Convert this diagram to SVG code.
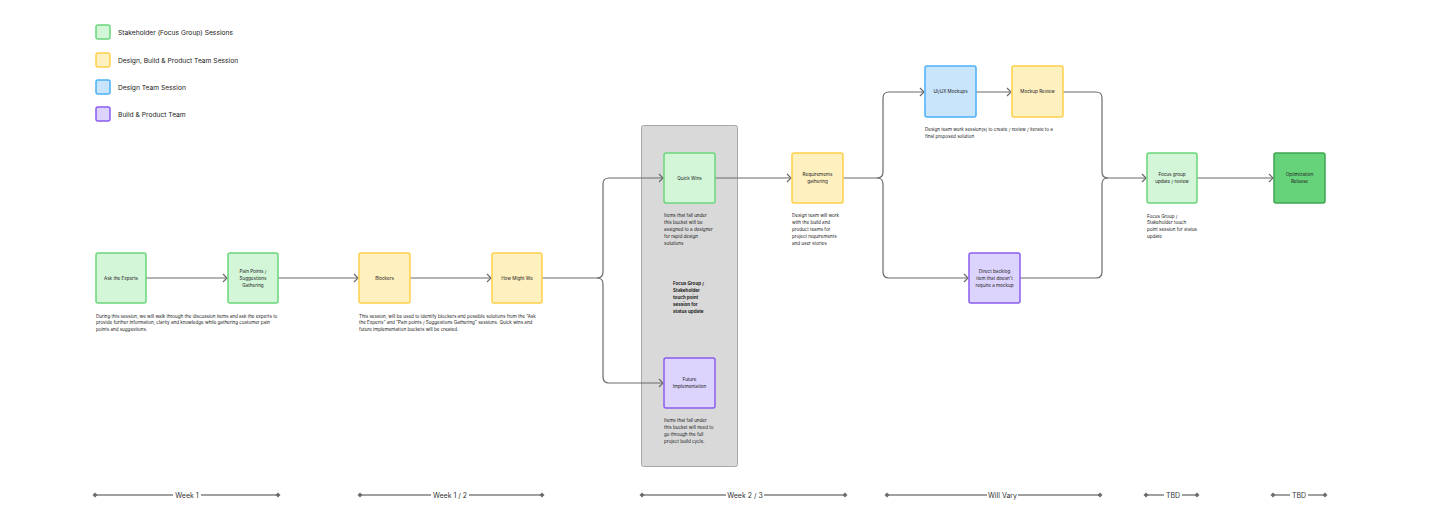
<svg xmlns="http://www.w3.org/2000/svg" width="1440" height="520" viewBox="0 0 1440 520">
<style>
text{font-family:Inter,"Liberation Sans",sans-serif;fill:#222}
.lg{font-size:6.7px}
.sm{font-size:4.55px}
.lb{font-size:4.6px;text-anchor:middle}
.b{font-weight:bold}
.tl{font-size:7px;text-anchor:middle;fill:#333}
.n{stroke-width:1.5}
.g{fill:#d3f5d8;stroke:#6ad67a}
.y{fill:#fff0c0;stroke:#ffcf4a}
.bl{fill:#c8e5fc;stroke:#4ab0f8}
.p{fill:#ddd4fd;stroke:#8a5cf0}
.dg{fill:#66d37a;stroke:#3fa551}
.c{fill:none;stroke:#6b6b6b;stroke-width:1.2}
.t{stroke:#808080;stroke-width:1.5}
.d{fill:#6b6b6b}
</style>
<defs>
<marker id="ah" markerUnits="userSpaceOnUse" markerWidth="10" markerHeight="12" refX="5" refY="5" orient="auto">
<path d="M1,1 L5,5 L1,9" fill="none" stroke="#6b6b6b" stroke-width="1.2"/>
</marker>
<path id="dm" d="M0,-2.5 L2.5,0 L0,2.5 L-2.5,0Z"/>
</defs>
<rect width="1440" height="520" fill="#fff"/>

<g id="legend">
<rect x="96" y="25" width="14" height="14" rx="2" class="n g"/>
<text x="118" y="35" class="lg">Stakeholder (Focus Group) Sessions</text>
<rect x="96" y="53" width="14" height="14" rx="2" class="n y"/>
<text x="118" y="62.5" class="lg">Design, Build &amp; Product Team Session</text>
<rect x="96" y="80" width="14" height="14" rx="2" class="n bl"/>
<text x="118" y="90" class="lg">Design Team Session</text>
<rect x="96" y="107" width="14" height="14" rx="2" class="n p"/>
<text x="118" y="117" class="lg">Build &amp; Product Team</text>
</g>

<g id="column">
<rect x="641.5" y="125.5" width="96" height="341" rx="2" fill="#d9d9d9" stroke="#a8a8a8" stroke-width="1"/>
</g>

<g id="connectors">
<path class="c" d="M146,278 H227" marker-end="url(#ah)"/>
<path class="c" d="M278,278 H358" marker-end="url(#ah)"/>
<path class="c" d="M410,278 H491" marker-end="url(#ah)"/>
<path class="c" d="M542,278 H597 Q603,278 603,272 V184 Q603,178 609,178 H663" marker-end="url(#ah)"/>
<path class="c" d="M597,278 Q603,278 603,284 V377 Q603,383 609,383 H663" marker-end="url(#ah)"/>
<path class="c" d="M715,178 H791" marker-end="url(#ah)"/>
<path class="c" d="M843,178 H877 Q883,178 883,172 V98 Q883,92 889,92 H924" marker-end="url(#ah)"/>
<path class="c" d="M877,178 Q883,178 883,184 V272 Q883,278 889,278 H968" marker-end="url(#ah)"/>
<path class="c" d="M976,92 H1011" marker-end="url(#ah)"/>
<path class="c" d="M1063,92 H1096 Q1102,92 1102,98 V172 Q1102,178 1108,178 H1146" marker-end="url(#ah)"/>
<path class="c" d="M1020,278 H1096 Q1102,278 1102,272 V184 Q1102,178 1108,178"/>
<path class="c" d="M1197,178 H1273" marker-end="url(#ah)"/>
</g>

<g id="ask-experts">
<rect x="96" y="253" width="50" height="50" rx="2" class="n g"/>
<text x="121" y="279.7" class="lb">Ask the Experts</text>
<text class="sm"><tspan x="96" y="317.5">During this session, we will walk through the discussion items and ask the experts to</tspan><tspan x="96" y="324.3">provide further information, clarity and knowledge while gathering customer pain</tspan><tspan x="96" y="331.1">points and suggestions.</tspan></text>
</g>

<g id="pain-points">
<rect x="228" y="253" width="50" height="50" rx="2" class="n g"/>
<text class="lb"><tspan x="253" y="272.7">Pain Points /</tspan><tspan x="253" y="279.7">Suggestions</tspan><tspan x="253" y="286.7">Gathering</tspan></text>
</g>

<g id="blockers">
<rect x="359" y="253" width="51" height="50" rx="2" class="n y"/>
<text x="384.5" y="279.7" class="lb">Blockers</text>
<text class="sm"><tspan x="359" y="317.5">This session, will be used to identify blockers and possible solutions from the “Ask</tspan><tspan x="359" y="324.3">the Experts” and “Pain points / Suggestions Gathering” sessions. Quick wins and</tspan><tspan x="359" y="331.1">future implementation buckets will be created.</tspan></text>
</g>

<g id="how-might-we">
<rect x="492" y="253" width="50" height="50" rx="2" class="n y"/>
<text x="517" y="279.7" class="lb">How Might We</text>
</g>

<g id="quick-wins">
<rect x="664" y="153" width="51" height="50" rx="2" class="n g"/>
<text x="689.5" y="179.7" class="lb">Quick Wins</text>
<text class="sm"><tspan x="664" y="216.5">Items that fall under</tspan><tspan x="664" y="223.5">this bucket will be</tspan><tspan x="664" y="230.5">assigned to a designer</tspan><tspan x="664" y="237.5">for rapid design</tspan><tspan x="664" y="244.5">solutions</tspan></text>
</g>

<g id="focus-note">
<text class="sm b"><tspan x="673" y="284.5">Focus Group /</tspan><tspan x="673" y="291.5">Stakeholder</tspan><tspan x="673" y="298.5">touch point</tspan><tspan x="673" y="305.5">session for</tspan><tspan x="673" y="312.5">status update</tspan></text>
</g>

<g id="future-implementation">
<rect x="664" y="358" width="51" height="50" rx="2" class="n p"/>
<text class="lb"><tspan x="689.5" y="381.2">Future</tspan><tspan x="689.5" y="388.2">Implementation</tspan></text>
<text class="sm"><tspan x="664" y="421.5">Items that fall under</tspan><tspan x="664" y="428.5">this bucket will need to</tspan><tspan x="664" y="435.5">go through the full</tspan><tspan x="664" y="442.5">project build cycle.</tspan></text>
</g>

<g id="requirements">
<rect x="792" y="153" width="51" height="50" rx="2" class="n y"/>
<text class="lb"><tspan x="817.5" y="176.2">Requirements</tspan><tspan x="817.5" y="183.2">gathering</tspan></text>
<text class="sm"><tspan x="792" y="216.5">Design team will work</tspan><tspan x="792" y="223.5">with the build and</tspan><tspan x="792" y="230.5">product teams for</tspan><tspan x="792" y="237.5">project requirements</tspan><tspan x="792" y="244.5">and user stories</tspan></text>
</g>

<g id="uiux-mockups">
<rect x="925" y="66" width="51" height="51" rx="2" class="n bl"/>
<text x="950.5" y="93.2" class="lb">UI/UX Mockups</text>
<text class="sm"><tspan x="925" y="130.5">Design team work session(s) to create / review / iterate to a</tspan><tspan x="925" y="137.5">final proposed solution</tspan></text>
</g>

<g id="mockup-review">
<rect x="1012" y="66" width="51" height="51" rx="2" class="n y"/>
<text x="1037.5" y="93.2" class="lb">Mockup Review</text>
</g>

<g id="direct-backlog">
<rect x="969" y="253" width="51" height="50" rx="2" class="n p"/>
<text class="lb"><tspan x="994.5" y="272.7">Direct backlog</tspan><tspan x="994.5" y="279.7">item that doesn't</tspan><tspan x="994.5" y="286.7">require a mockup</tspan></text>
</g>

<g id="focus-group-update">
<rect x="1147" y="153" width="50" height="50" rx="2" class="n g"/>
<text class="lb"><tspan x="1172" y="176.2">Focus group</tspan><tspan x="1172" y="183.2">update / review</tspan></text>
<text class="sm"><tspan x="1147" y="217.5">Focus Group /</tspan><tspan x="1147" y="224.3">Stakeholder touch</tspan><tspan x="1147" y="231.1">point session for status</tspan><tspan x="1147" y="237.9">update</tspan></text>
</g>

<g id="optimization-release">
<rect x="1274" y="153" width="51" height="50" rx="2" class="n dg"/>
<text class="lb"><tspan x="1299.5" y="176.2">Optimization</tspan><tspan x="1299.5" y="183.2">Release</tspan></text>
</g>

<g id="timeline">
<line x1="95" y1="495" x2="173" y2="495" class="t"/><line x1="201" y1="495" x2="278" y2="495" class="t"/>
<use href="#dm" x="95" y="495" class="d"/><use href="#dm" x="278" y="495" class="d"/>
<text x="187" y="497.5" class="tl">Week 1</text>

<line x1="360" y1="495" x2="431" y2="495" class="t"/><line x1="469" y1="495" x2="542" y2="495" class="t"/>
<use href="#dm" x="360" y="495" class="d"/><use href="#dm" x="542" y="495" class="d"/>
<text x="450" y="497.5" class="tl">Week 1 / 2</text>

<line x1="642" y1="495" x2="726" y2="495" class="t"/><line x1="764" y1="495" x2="845" y2="495" class="t"/>
<use href="#dm" x="642" y="495" class="d"/><use href="#dm" x="845" y="495" class="d"/>
<text x="745" y="497.5" class="tl">Week 2 / 3</text>

<line x1="887" y1="495" x2="987" y2="495" class="t"/><line x1="1018" y1="495" x2="1100" y2="495" class="t"/>
<use href="#dm" x="887" y="495" class="d"/><use href="#dm" x="1100" y="495" class="d"/>
<text x="1002.5" y="497.5" class="tl">Will Vary</text>

<line x1="1146" y1="495" x2="1164" y2="495" class="t"/><line x1="1182" y1="495" x2="1197" y2="495" class="t"/>
<use href="#dm" x="1146" y="495" class="d"/><use href="#dm" x="1197" y="495" class="d"/>
<text x="1173" y="497.5" class="tl">TBD</text>

<line x1="1273" y1="495" x2="1290" y2="495" class="t"/><line x1="1308" y1="495" x2="1325" y2="495" class="t"/>
<use href="#dm" x="1273" y="495" class="d"/><use href="#dm" x="1325" y="495" class="d"/>
<text x="1299" y="497.5" class="tl">TBD</text>
</g>
</svg>
